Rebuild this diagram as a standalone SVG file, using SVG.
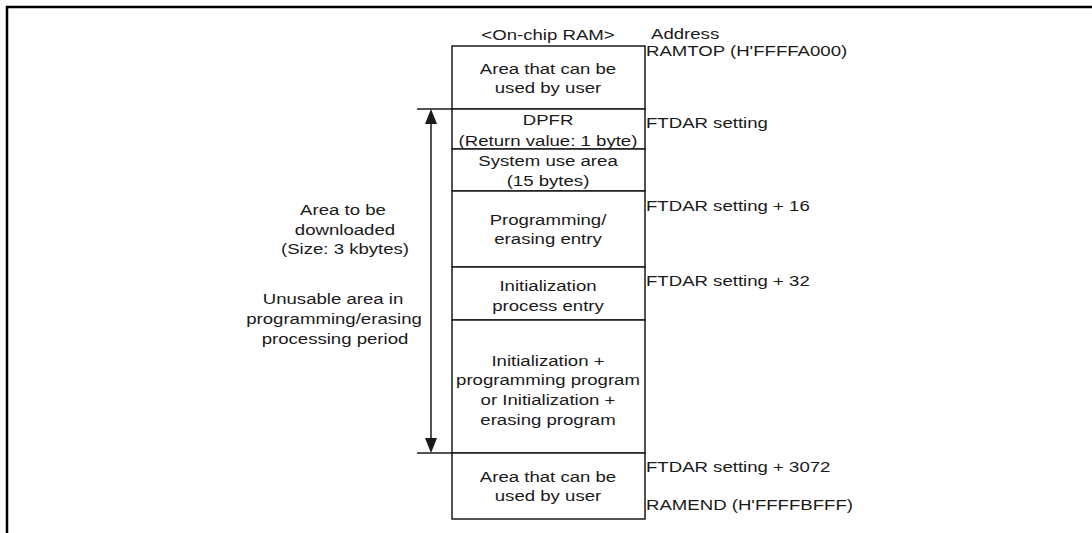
<svg xmlns="http://www.w3.org/2000/svg" width="1092" height="533" viewBox="0 0 1092 533">
<style>
text{font-family:"Liberation Sans",Arial,sans-serif;font-size:15.5px;fill:#1a1a1a}
.c{text-anchor:middle}
.blk{fill:#fff;stroke:#1a1a1a;stroke-width:1.5}
.ln{stroke:#1a1a1a;stroke-width:1.5;fill:none}
.frame{stroke:#000;stroke-width:2.5;fill:none}
</style>
<defs>
<marker id="ah" viewBox="0 0 15 12" refX="0" refY="6" markerWidth="15" markerHeight="12" markerUnits="userSpaceOnUse" orient="auto-start-reverse">
<path d="M0,0 L15,6 L0,12 Z" fill="#1a1a1a"/>
</marker>
</defs>
<path class="frame" d="M7,533 V7 H1092"/>
<g id="title"><text class="c" transform="translate(548,40) scale(1.2,1)">&lt;On-chip RAM&gt;</text></g>
<g id="blk-user-top"><rect class="blk" x="452" y="46" width="193" height="63"/>
<text class="c" transform="translate(548,74) scale(1.2,1)">Area that can be</text>
<text class="c" transform="translate(548,93) scale(1.2,1)">used by user</text></g>
<g id="blk-dpfr"><rect class="blk" x="452" y="109" width="193" height="40"/>
<text class="c" transform="translate(548,125) scale(1.2,1)">DPFR</text>
<text class="c" transform="translate(548,146) scale(1.2,1)">(Return value: 1 byte)</text></g>
<g id="blk-sys"><rect class="blk" x="452" y="149" width="193" height="42"/>
<text class="c" transform="translate(548,166) scale(1.2,1)">System use area</text>
<text class="c" transform="translate(548,186) scale(1.2,1)">(15 bytes)</text></g>
<g id="blk-prog"><rect class="blk" x="452" y="191" width="193" height="76"/>
<text class="c" transform="translate(548,225) scale(1.2,1)">Programming/</text>
<text class="c" transform="translate(548,244) scale(1.2,1)">erasing entry</text></g>
<g id="blk-init"><rect class="blk" x="452" y="267" width="193" height="53"/>
<text class="c" transform="translate(548,291) scale(1.2,1)">Initialization</text>
<text class="c" transform="translate(548,311) scale(1.2,1)">process entry</text></g>
<g id="blk-program"><rect class="blk" x="452" y="320" width="193" height="133"/>
<text class="c" transform="translate(548,366) scale(1.2,1)">Initialization +</text>
<text class="c" transform="translate(548,385) scale(1.2,1)">programming program</text>
<text class="c" transform="translate(548,405) scale(1.2,1)">or Initialization +</text>
<text class="c" transform="translate(548,425) scale(1.2,1)">erasing program</text></g>
<g id="blk-user-bottom"><rect class="blk" x="452" y="453" width="193" height="66"/>
<text class="c" transform="translate(548,482) scale(1.2,1)">Area that can be</text>
<text class="c" transform="translate(548,501) scale(1.2,1)">used by user</text></g>
<g id="addresses">
<text transform="translate(651,39) scale(1.2,1)">Address</text>
<text transform="translate(646,56) scale(1.2,1)">RAMTOP (H'FFFFA000)</text>
<text transform="translate(646,128) scale(1.2,1)">FTDAR setting</text>
<text transform="translate(646,211) scale(1.2,1)">FTDAR setting + 16</text>
<text transform="translate(646,286) scale(1.2,1)">FTDAR setting + 32</text>
<text transform="translate(646,472) scale(1.2,1)">FTDAR setting + 3072</text>
<text transform="translate(646,510) scale(1.2,1)">RAMEND (H'FFFFBFFF)</text>
</g>
<g id="left-labels">
<text class="c" transform="translate(343,215) scale(1.2,1)">Area to be</text>
<text class="c" transform="translate(345,235) scale(1.2,1)">downloaded</text>
<text class="c" transform="translate(345,254) scale(1.2,1)">(Size: 3 kbytes)</text>
<text class="c" transform="translate(333,304) scale(1.2,1)">Unusable area in</text>
<text class="c" transform="translate(334,324) scale(1.2,1)">programming/erasing</text>
<text class="c" transform="translate(335,344) scale(1.2,1)">processing period</text>
</g>
<g id="connectors">
<line class="ln" x1="417" y1="109" x2="452" y2="109"/>
<line class="ln" x1="417" y1="453" x2="452" y2="453"/>
<line class="ln" x1="431" y1="124" x2="431" y2="438" marker-start="url(#ah)" marker-end="url(#ah)"/>
</g>
</svg>
